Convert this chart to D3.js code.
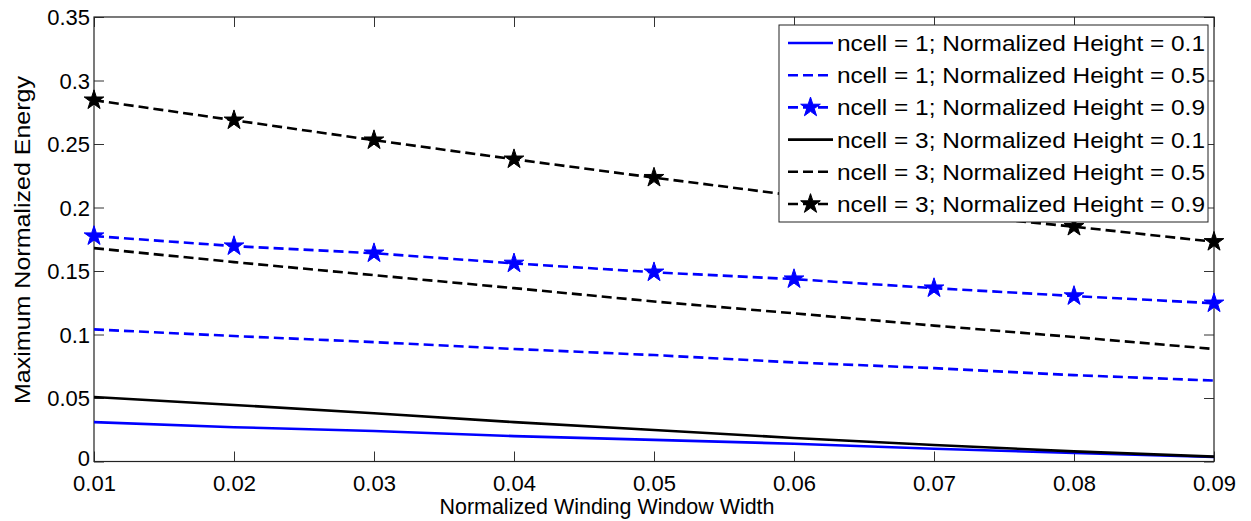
<!DOCTYPE html>
<html><head><meta charset="utf-8">
<script src="https://cdn.jsdelivr.net/npm/d3@7"></script>
<style>body{margin:0;background:#fff}svg{display:block}text{font-family:"Liberation Sans",Arial,sans-serif}</style>
</head><body><svg id="c" width="1251" height="521"></svg>
<script>
const xValues = [0.01,0.02,0.03,0.04,0.05,0.06,0.07,0.08,0.09];
const n1h01 = [0.031,0.027,0.024,0.020,0.017,0.014,0.010,0.0067,0.0035];
const n1h05 = [0.104,0.0988,0.094,0.0886,0.0838,0.078,0.0735,0.068,0.0637];
const n1h09 = [0.1775,0.1696,0.164,0.156,0.149,0.1436,0.1365,0.1303,0.1246];
const n3h01 = [0.0508,0.0445,0.038,0.031,0.0248,0.0185,0.013,0.008,0.0038];
const n3h05 = [0.168,0.157,0.1467,0.1365,0.126,0.1167,0.107,0.098,0.0886];
const n3h09 = [0.2845,0.2687,0.253,0.238,0.2235,0.2095,0.196,0.1849,0.173];
const seriesNames = ["ncell = 1; Normalized Height = 0.1","ncell = 1; Normalized Height = 0.5","ncell = 1; Normalized Height = 0.9","ncell = 3; Normalized Height = 0.1","ncell = 3; Normalized Height = 0.5","ncell = 3; Normalized Height = 0.9"];
const xTicks = [0.01,0.02,0.03,0.04,0.05,0.06,0.07,0.08,0.09];
const yTicks = [0,0.05,0.1,0.15,0.2,0.25,0.3,0.35];
const yTickLabels = ["0","0.05","0.1","0.15","0.2","0.25","0.3","0.35"];
const xLabel = "Normalized Winding Window Width";
const yLabel = "Maximum Normalized Energy";

const series = [
  {name: seriesNames[0], values: n1h01, color: "#0000ff", dash: null, star: false},
  {name: seriesNames[1], values: n1h05, color: "#0000ff", dash: "10,5", star: false},
  {name: seriesNames[2], values: n1h09, color: "#0000ff", dash: "10,5", star: true},
  {name: seriesNames[3], values: n3h01, color: "#000000", dash: null, star: false},
  {name: seriesNames[4], values: n3h05, color: "#000000", dash: "10,5", star: false},
  {name: seriesNames[5], values: n3h09, color: "#000000", dash: "10,5", star: true}
];

const L = 94, R = 1214, T = 17, B = 461.5;
const svg = d3.select("#c");
const x = d3.scaleLinear().domain([0.01,0.09]).range([L,R]);
const y = d3.scaleLinear().domain([0,0.35]).range([B,T]);

svg.append("clipPath").attr("id","clip").append("rect").attr("x",L).attr("y",T).attr("width",R-L).attr("height",B-T);

const tickLen = 10;
const gx = svg.append("g").attr("transform",`translate(0,${B})`)
  .call(d3.axisBottom(x).tickValues(xTicks).tickSize(-tickLen).tickPadding(14).tickFormat(d3.format(".2f")));
const gxt = svg.append("g").attr("transform",`translate(0,${T})`)
  .call(d3.axisTop(x).tickValues(xTicks).tickSize(-tickLen).tickFormat(""));
const gy = svg.append("g").attr("transform",`translate(${L},0)`)
  .call(d3.axisLeft(y).tickValues(yTicks).tickSize(-tickLen).tickPadding(4).tickFormat((d,i)=>yTickLabels[i]));
const gyr = svg.append("g").attr("transform",`translate(${R},0)`)
  .call(d3.axisRight(y).tickValues(yTicks).tickSize(-tickLen).tickFormat(""));
[gx,gxt,gy,gyr].forEach(g=>{
  g.select(".domain").remove();
  g.selectAll(".tick line").attr("stroke","#333").attr("stroke-width",1);
  g.selectAll("text").attr("fill","#000").attr("font-size",22).attr("font-family","Liberation Sans, Arial, sans-serif");
});
gy.selectAll("text").attr("dy",(d)=> d === 0 ? "0.18em" : "0.36em");
svg.append("rect").attr("x",L).attr("y",T).attr("width",R-L).attr("height",B-T)
  .attr("fill","none").attr("stroke","#222").attr("stroke-width",1.2);

const line = d3.line().x((d,i)=>x(xValues[i])).y(d=>y(d));
const star = d3.symbol().type(d3.symbolStar).size(120);
const plot = svg.append("g").attr("clip-path","url(#clip)");
const plotM = svg.append("g");
series.forEach(s=>{
  plot.append("path").datum(s.values).attr("d",line).attr("fill","none")
    .attr("stroke",s.color).attr("stroke-width",2.6).attr("stroke-dasharray",s.dash);
  if (s.star) {
    plotM.selectAll(null).data(s.values).enter().append("path")
      .attr("d",star).attr("transform",(d,i)=>`translate(${x(xValues[i])},${y(d)})`)
      .attr("fill",s.color).attr("stroke",s.color).attr("stroke-width",1);
  }
});

const lg = svg.append("g");
lg.append("rect").attr("x",779).attr("y",25).attr("width",429).attr("height",197)
  .attr("fill","#fff").attr("stroke","#222").attr("stroke-width",1);
series.forEach((s,i)=>{
  const cy = 43 + i*32.2;
  lg.append("line").attr("x1",788).attr("x2",833).attr("y1",cy).attr("y2",cy)
    .attr("stroke",s.color).attr("stroke-width",2.6).attr("stroke-dasharray",s.dash ? "10,5" : null);
  if (s.star) lg.append("path").attr("d",star).attr("transform",`translate(810.5,${cy})`).attr("fill",s.color).attr("stroke",s.color);
  lg.append("text").attr("x",837).attr("y",cy).attr("dy","0.36em").attr("font-size",22).attr("fill","#000")
    .attr("textLength",368).attr("lengthAdjust","spacingAndGlyphs").text(s.name);
});

svg.append("text").attr("x",607).attr("y",514).attr("text-anchor","middle").attr("font-size",22)
  .attr("textLength",335).attr("lengthAdjust","spacingAndGlyphs").text(xLabel);
svg.append("text").attr("transform",`translate(30,240) rotate(-90)`).attr("text-anchor","middle")
  .attr("font-size",22).attr("textLength",328).attr("lengthAdjust","spacingAndGlyphs").text(yLabel);
</script></body></html>
